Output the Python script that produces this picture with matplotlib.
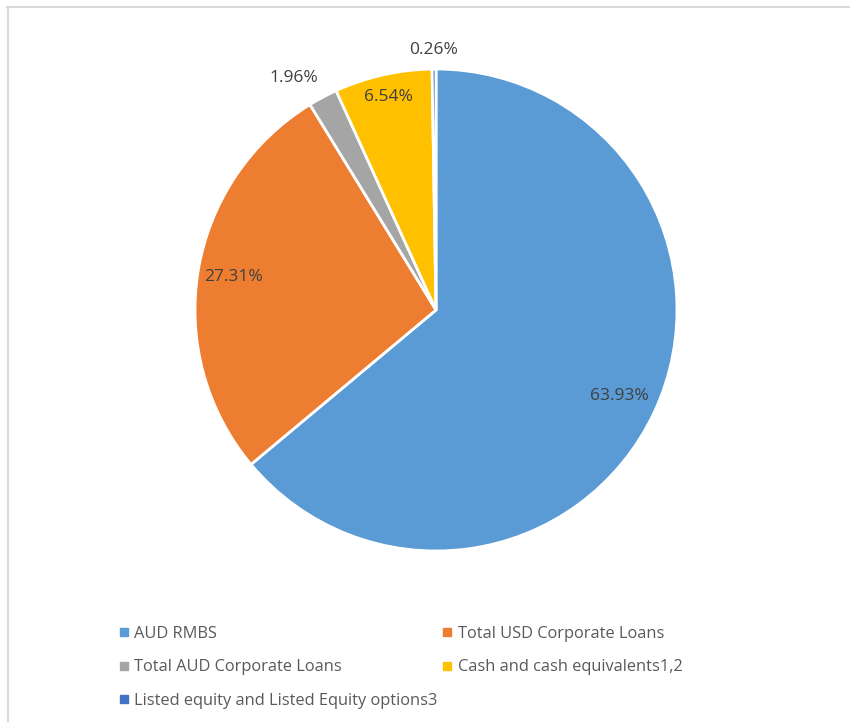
import numpy as np
import matplotlib.pyplot as plt
from matplotlib.lines import Line2D

# Portfolio split
labels = ["AUD RMBS", "Total USD Corporate Loans", "Total AUD Corporate Loans",
          "Cash and cash equivalents1,2", "Listed equity and Listed Equity options3"]
shares = [63.93, 27.31, 1.96, 6.54, 0.26]
colors = ["#5B9BD5", "#ED7D31", "#A5A5A5", "#FFC000", "#4472C4"]
# where each percentage label sits: fraction of radius, and nudge off the slice middle (deg)
label_r = [0.84, 0.85, 1.13, 0.905, 1.08]
label_nudge = [0, 0, 3.4, 0, 0]

plt.rcParams["font.family"] = ["Open Sans", "DejaVu Sans"]

fig = plt.figure(figsize=(8.5, 7.22), dpi=100)
ax = fig.add_axes([195 / 850, 1 - 551 / 722, 482 / 850, 482 / 722])

wedges, _ = ax.pie(shares, colors=colors, startangle=90, counterclock=False,
                   wedgeprops=dict(edgecolor="white", linewidth=2))
ax.set_aspect("equal")
ax.set_xlim(-1, 1)
ax.set_ylim(-1, 1)

for w, v, r, d in zip(wedges, shares, label_r, label_nudge):
    mid = np.deg2rad((w.theta1 + w.theta2) / 2 + d)
    ax.text(r * np.cos(mid), r * np.sin(mid), f"{v:.2f}%",
            ha="center", va="center", fontsize=12.5, color="#404040")

# legend goes row by row in the reference, matplotlib fills by column
order = [0, 2, 4, 1, 3]
handles = [Line2D([], [], marker="s", linestyle="none", markersize=6,
                  markerfacecolor=colors[i], markeredgecolor=colors[i]) for i in order]
fig.legend(handles, [labels[i] for i in order], ncol=2, frameon=False,
           loc="upper left", bbox_to_anchor=(105 / 850, 1 - 611 / 722),
           fontsize=11.8, labelcolor="#595959", handlelength=0.55, handletextpad=0.35,
           columnspacing=0.3, labelspacing=1.07)

# light grey chart-area border (only top and left visible in the crop)
fig.add_artist(Line2D([7 / 850, 1], [1 - 7 / 722, 1 - 7 / 722], color="#D9D9D9", lw=1.5))
fig.add_artist(Line2D([7.5 / 850, 7.5 / 850], [0, 1 - 7 / 722], color="#D9D9D9", lw=1.5))

fig.savefig("out.png", dpi=100)
